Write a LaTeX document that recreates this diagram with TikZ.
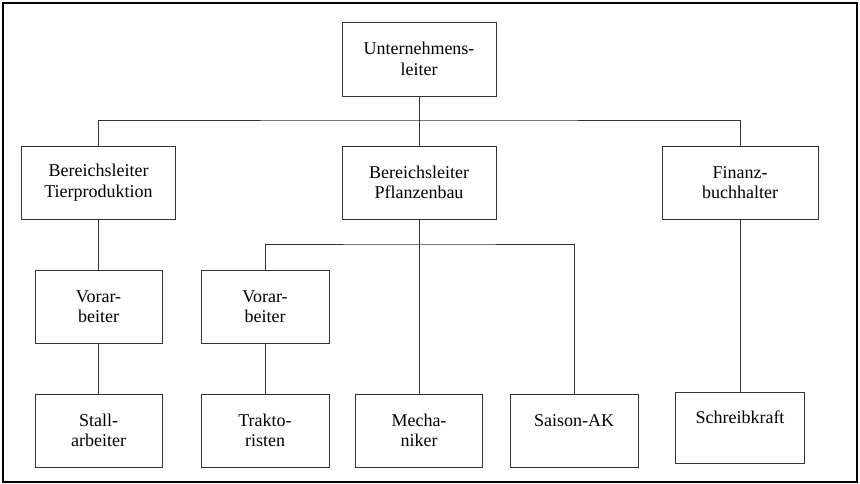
\documentclass[tikz,border=0pt]{standalone}
\usepackage{fontspec}
\setmainfont{Liberation Serif}

\newcommand*{\boxw}{128pt}
\newcommand*{\boxh}{73pt}

\begin{document}
\begin{tikzpicture}
[
	x=1pt,y=-1pt,
	orgbox/.style={draw=black!80,line width=0.8pt,align=center,inner sep=0pt,
		minimum width=\boxw,minimum height=\boxh,
		font=\fontsize{18}{20.5}\selectfont},
	widebox/.style={orgbox,minimum width=154pt},
	link/.style={draw=black!80,line width=0.8pt}
]

	% frame
	\useasboundingbox (0,0) rectangle (860,484);
	\draw[line width=1.6pt] (3,3) rectangle (857,482);

	% top
	\node[widebox,minimum height=74pt] at (419,59) (ul) {Unternehmens-\\leiter};

	% divisions
	\node[widebox] at (98.5,182.5) (bt) {Bereichsleiter\\Tierproduktion};
	\node[widebox] at (419,182.5) (bp) {Bereichsleiter\\Pflanzenbau};
	\node[widebox,minimum width=156pt] at (740,182.5) (fb) {Finanz-\\buchhalter};

	% foremen
	\node[orgbox,minimum width=127pt] at (98.5,306.5) (v1) {Vorar-\\beiter};
	\node[orgbox] at (265,306.5) (v2) {Vorar-\\beiter};

	% staff
	\node[orgbox,minimum width=127pt] at (98.5,430.5) (sa) {Stall-\\arbeiter};
	\node[orgbox] at (265,430.5) (tr) {Trakto-\\risten};
	\node[orgbox,minimum width=127pt] at (419,430.5) (me) {Mecha-\\niker};
	\node[orgbox] at (574,431) (sk) {Saison-AK\\\mbox{}};
	\node[orgbox,minimum width=129pt,minimum height=71pt] at (740,427.5) (sb) {Schreibkraft\\\mbox{}};

	% junctions
	\coordinate (j1) at (419,120);
	\coordinate (j2) at (419,244);

	% links
	\draw[link] (ul.south) -- (j1);
	\draw[link] (bt.north) |- (j1) -| (fb.north);
	\draw[link] (j1) -- (bp.north);
	\draw[link] (bt.south) -- (v1.north);
	\draw[link] (v1.south) -- (sa.north);
	\draw[link] (bp.south) -- (me.north);
	\draw[link] (v2.north) |- (j2) -| (sk.north);
	\draw[link] (v2.south) -- (tr.north);
	\draw[link] (fb.south) -- (sb.north);

\end{tikzpicture}
\end{document}
